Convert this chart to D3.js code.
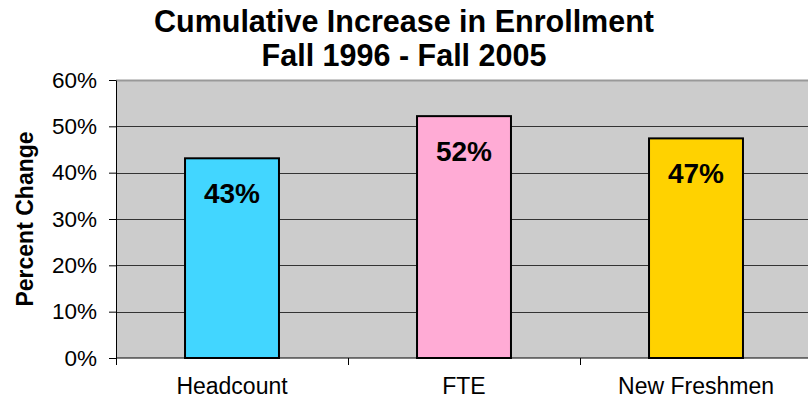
<!DOCTYPE html>
<html>
<head>
<meta charset="utf-8">
<script src="https://cdn.jsdelivr.net/npm/d3@7"></script>
<style>
  body { margin: 0; background: #fff; }
  svg { font-family: Arial, "Liberation Sans", sans-serif; }
</style>
</head>
<body>
<svg id="chart"></svg>
<script>
// Chart data
const categories = ['Headcount', 'FTE', 'New Freshmen'];
const values = [43.1, 52.2, 47.4];
const valueLabels = ['43%', '52%', '47%'];
const barColors = ['#42d6ff', '#ffabd5', '#ffd200'];
const yTicks = [0, 10, 20, 30, 40, 50, 60];

const width = 808;
const height = 402;
const margin = { top: 80, right: -4, bottom: 44, left: 116 };

const svg = d3.select('#chart')
    .attr('width', width)
    .attr('height', height);

const plotW = width - margin.left - margin.right;
const plotH = height - margin.top - margin.bottom;

const x = d3.scaleBand()
    .domain(categories)
    .range([0, plotW])
    .paddingInner(0.595)
    .paddingOuter(0.2975);

const y = d3.scaleLinear()
    .domain([0, 60])
    .range([plotH, 0]);

const g = svg.append('g')
    .attr('transform', 'translate(' + margin.left + ',' + margin.top + ')');

// plot background
g.append('rect')
    .attr('width', plotW)
    .attr('height', plotH)
    .attr('fill', '#cccccc');

// top border (gray)
g.append('line')
    .attr('x1', 0).attr('x2', plotW)
    .attr('y1', 0.5).attr('y2', 0.5)
    .attr('stroke', '#999999')
    .attr('stroke-width', 2);

// gridlines
g.selectAll('.grid')
    .data(yTicks.filter(d => d > 0 && d < 60))
    .enter()
    .append('line')
    .attr('x1', 0).attr('x2', plotW)
    .attr('y1', d => Math.round(y(d)) + 0.5)
    .attr('y2', d => Math.round(y(d)) + 0.5)
    .attr('stroke', '#333')
    .attr('stroke-width', 1);

// y axis
const yAxis = g.append('g')
    .call(d3.axisLeft(y).tickValues(yTicks).tickFormat(d => d + '%').tickSize(7).tickSizeOuter(0));
yAxis.select('.domain').attr('stroke', '#000');
yAxis.selectAll('.tick line').attr('stroke', '#000');
yAxis.selectAll('.tick text')
    .attr('font-size', 22.5)
    .attr('font-family', 'Arial, "Liberation Sans", sans-serif')
    .attr('fill', '#000')
    .attr('x', -19);

// x axis line and ticks at category boundaries
g.append('line')
    .attr('x1', 0).attr('x2', plotW)
    .attr('y1', plotH).attr('y2', plotH)
    .attr('stroke', '#000');
const step = plotW / categories.length;
g.selectAll('.xtick')
    .data(d3.range(categories.length + 1))
    .enter()
    .append('line')
    .attr('x1', d => Math.round(d * step) + 0.5)
    .attr('x2', d => Math.round(d * step) + 0.5)
    .attr('y1', plotH).attr('y2', plotH + 7)
    .attr('stroke', '#000');

g.selectAll('.xlabel')
    .data(categories)
    .enter()
    .append('text')
    .attr('x', d => x(d) + x.bandwidth() / 2)
    .attr('y', plotH + 36)
    .attr('text-anchor', 'middle')
    .attr('font-size', 23)
    .text(d => d);

// bars
g.selectAll('.bar')
    .data(categories)
    .enter()
    .append('rect')
    .attr('x', d => x(d))
    .attr('y', (d, i) => y(values[i]))
    .attr('width', x.bandwidth())
    .attr('height', (d, i) => plotH - y(values[i]))
    .attr('fill', (d, i) => barColors[i])
    .attr('stroke', '#000')
    .attr('stroke-width', 2);

// value labels
g.selectAll('.vlabel')
    .data(categories)
    .enter()
    .append('text')
    .attr('x', d => x(d) + x.bandwidth() / 2)
    .attr('y', (d, i) => y(values[i]) + 45)
    .attr('text-anchor', 'middle')
    .attr('font-size', 28)
    .attr('font-weight', 'bold')
    .text((d, i) => valueLabels[i]);

// title
svg.append('text')
    .attr('x', 404)
    .attr('y', 32)
    .attr('text-anchor', 'middle')
    .attr('font-size', 30.5)
    .attr('font-weight', 'bold')
    .text('Cumulative Increase in Enrollment');
svg.append('text')
    .attr('x', 404)
    .attr('y', 66)
    .attr('text-anchor', 'middle')
    .attr('font-size', 30.5)
    .attr('font-weight', 'bold')
    .text('Fall 1996 - Fall 2005');

// y axis title
svg.append('text')
    .attr('transform', 'translate(33,' + (margin.top + plotH / 2) + ') rotate(-90)')
    .attr('text-anchor', 'middle')
    .attr('font-size', 23)
    .attr('font-weight', 'bold')
    .text('Percent Change');
</script>
</body>
</html>
